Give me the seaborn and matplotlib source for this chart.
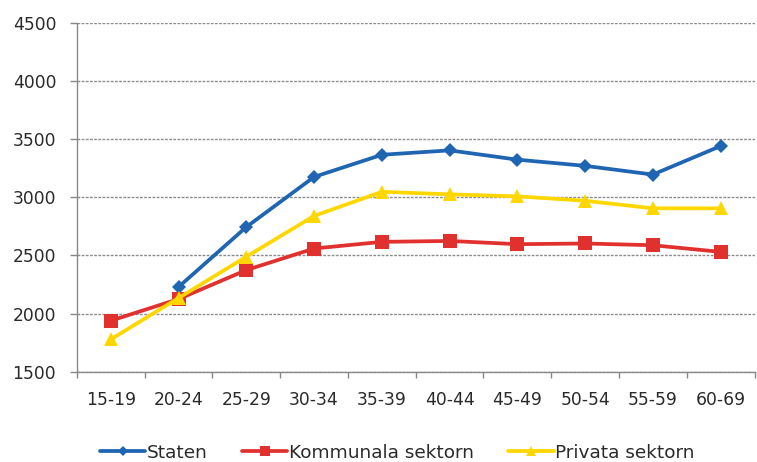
import numpy as np
import pandas as pd
import matplotlib
matplotlib.use("Agg")
import matplotlib.pyplot as plt
import seaborn as sns
from matplotlib.ticker import FixedLocator

categories = ["15-19", "20-24", "25-29", "30-34", "35-39", "40-44", "45-49", "50-54", "55-59", "60-69"]
staten = [np.nan, 2230, 2745, 3175, 3365, 3403, 3323, 3270, 3195, 3440]
kommunala = [1940, 2126, 2375, 2560, 2617, 2625, 2597, 2603, 2588, 2531]
privata = [1780, 2135, 2490, 2840, 3047, 3025, 3008, 2970, 2905, 2905]
series_names = ["Staten", "Kommunala sektorn", "Privata sektorn"]
yticks = [1500, 2000, 2500, 3000, 3500, 4000, 4500]

sns.set_theme(style="white")
plt.rcParams["font.family"] = ["DejaVu Sans"]

rows = []
for name, vals in zip(series_names, [staten, kommunala, privata]):
    for i, (c, v) in enumerate(zip(categories, vals)):
        rows.append({"Ålder": c, "pos": i, "Lön": v, "Sektor": name})
df = pd.DataFrame(rows)

fig = plt.figure(figsize=(7.57, 4.62), dpi=100)
ax = fig.add_axes([0.1017, 0.195, 0.895, 0.756])

colors = {"Staten": "#1F65B2", "Kommunala sektorn": "#E0312F", "Privata sektorn": "#FFD700"}
markers = {"Staten": "D", "Kommunala sektorn": "s", "Privata sektorn": "^"}
msizes = {"Staten": 7.5, "Kommunala sektorn": 9.5, "Privata sektorn": 10.5}

for name in series_names:
    sub = df[df["Sektor"] == name]
    sns.lineplot(data=sub, x="pos", y="Lön", ax=ax, color=colors[name], marker=markers[name],
                 markersize=msizes[name], markeredgewidth=0, linewidth=2.7, label=name,
                 estimator=None, sort=False)

tick_color = "#2a2a2a"
ax.set_xlim(-0.5, 9.5)
ax.set_ylim(1500, 4500)
ax.set_xticks(range(len(categories)))
ax.set_xticklabels(categories, fontsize=12.3, color=tick_color)
ax.xaxis.set_minor_locator(FixedLocator(np.arange(-0.5, 10, 1)))
ax.tick_params(axis="x", which="major", length=0, pad=13.5)
ax.tick_params(axis="x", which="minor", length=4, color="#888888", width=1, direction="out", bottom=True)
ax.set_yticks(yticks)
ax.set_yticklabels([str(t) for t in yticks], fontsize=12.3, color=tick_color)
ax.tick_params(axis="y", length=5, color="#888888", width=1, direction="out", pad=10, left=True)

ax.grid(axis="y", color="#8c8c8c", linestyle=(0, (2, 1)), linewidth=1)
ax.set_axisbelow(True)
for s in ["top", "right"]:
    ax.spines[s].set_visible(False)
for s in ["left", "bottom"]:
    ax.spines[s].set_color("#888888")
    ax.spines[s].set_linewidth(1)
ax.set_xlabel("")
ax.set_ylabel("")

leg = ax.legend(loc="center", bbox_to_anchor=(0.473, -0.232), ncol=3, frameon=False,
                fontsize=13.3, handlelength=2.45, columnspacing=1.85, handletextpad=0.1,
                markerscale=0.7)
for t in leg.get_texts():
    t.set_color(tick_color)

fig.savefig("out.png", dpi=100)
